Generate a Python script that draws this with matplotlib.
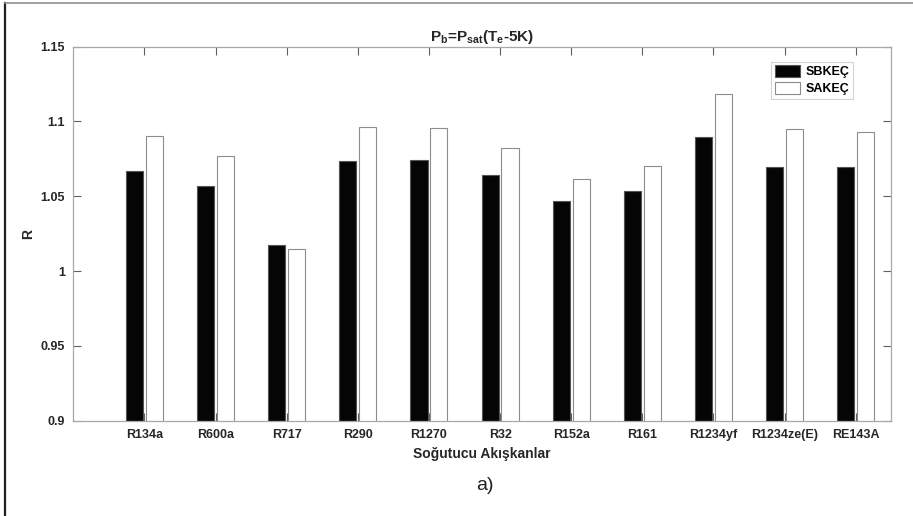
import matplotlib
matplotlib.use("Agg")
import matplotlib.pyplot as plt
import numpy as np
from matplotlib.lines import Line2D

plt.rcParams['font.family'] = ['Liberation Sans', 'DejaVu Sans']
plt.rcParams['mathtext.fontset'] = 'custom'
plt.rcParams['mathtext.rm'] = 'Liberation Sans:bold'
plt.rcParams['mathtext.bf'] = 'Liberation Sans:bold'
plt.rcParams['mathtext.it'] = 'Liberation Sans:bold'

categories = ['R134a', 'R600a', 'R717', 'R290', 'R1270', 'R32', 'R152a',
              'R161', 'R1234yf', 'R1234ze(E)', 'RE143A']
sbkec = [1.067, 1.057, 1.0174, 1.0739, 1.0743, 1.0645, 1.0466,
         1.0536, 1.0897, 1.0695, 1.0695]
sakec = [1.090, 1.0768, 1.0147, 1.096, 1.0955, 1.0822, 1.0615,
         1.070, 1.1187, 1.0947, 1.0933]
yticks = [0.9, 0.95, 1.0, 1.05, 1.1, 1.15]
ytick_labels = ['0.9', '0.95', '1', '1.05', '1.1', '1.15']

fig = plt.figure(figsize=(9.13, 5.16), dpi=100)
ax = fig.add_axes([0.0803, 0.1847, 0.8959, 0.7248])

x = np.arange(1, len(categories) + 1)
w = 0.24
off = 0.14
ax.bar(x - off, sbkec, width=w, color='#050505', edgecolor='#555555',
       linewidth=0.8, label='SBKEÇ', zorder=2)
ax.bar(x + off, sakec, width=w, color='white', edgecolor='#8c8c8c',
       linewidth=0.8, label='SAKEÇ', zorder=2)

ax.set_xlim(0, 11.5)
ax.set_ylim(0.9, 1.15)
ax.set_xticks(x)
ax.set_xticklabels(categories, fontsize=9, fontweight='bold', color='#262626')
ax.set_yticks(yticks)
ax.set_yticklabels(ytick_labels, fontsize=9, fontweight='bold', color='#262626')
ax.tick_params(direction='in', length=6, width=0.8, color='#606060',
               top=True, right=True, pad=6)
for s in ax.spines.values():
    s.set_color('#a8a8a8')
    s.set_linewidth(0.9)

ax.set_xlabel('Soğutucu Akışkanlar', fontsize=10, fontweight='bold',
              color='#262626', labelpad=4)
ax.set_ylabel('R', fontsize=10, fontweight='bold', color='#262626', labelpad=4)
ax.set_title(r'P$_{\mathbf{b}}$=P$_{\mathbf{sat}}$(T$_{\mathbf{e}}$-5K)',
             fontsize=11, fontweight='bold', color='#262626', pad=4)

leg = ax.legend(loc='upper right', bbox_to_anchor=(0.953, 0.96),
                prop={'weight': 'bold', 'size': 9},
                frameon=True, fancybox=False, edgecolor='#c8c8c8',
                handlelength=2.0, handleheight=1.05, handletextpad=0.4,
                borderpad=0.3, labelspacing=0.3, borderaxespad=0)
leg.get_frame().set_linewidth(0.8)

fig.text(0.531, 0.060, 'a)', fontsize=14, ha='center', va='center',
         color='#202020')

# figure frame lines (left and top)
fig.add_artist(Line2D([5/913, 5/913], [0, 1 - 3/516], transform=fig.transFigure,
                      color='#202020', linewidth=1.6))
fig.add_artist(Line2D([5/913, 1], [1 - 3/516, 1 - 3/516], transform=fig.transFigure,
                      color='#909090', linewidth=1.2))

fig.savefig('out.png', dpi=100)
